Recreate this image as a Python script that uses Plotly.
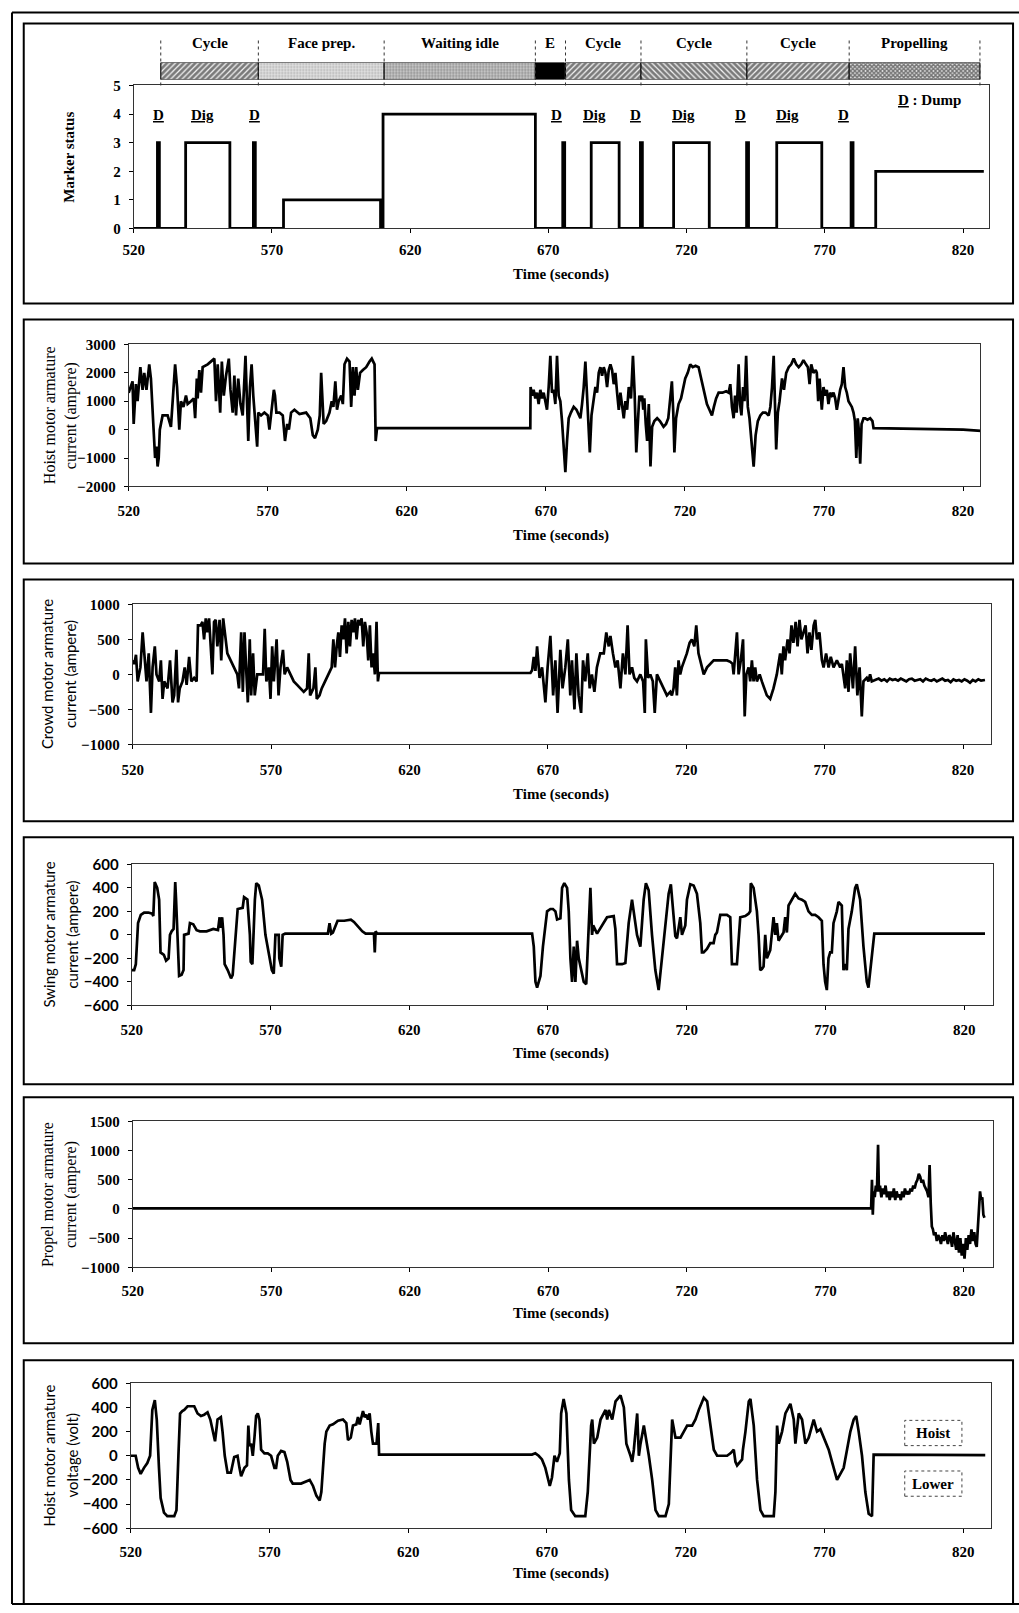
import plotly.graph_objects as go

W, H = 1019, 1613

# ---------------------------------------------------------------- data
x_ticks = [520, 570, 620, 670, 720, 770, 820]

# marker status (step changes: time, status)
marker_t = [520, 528.6, 529.3, 538.8, 554.8, 563.3, 564.0, 574.2, 609.3, 610.2, 665.3,
            675.2, 675.9, 685.5, 695.6, 703.3, 704.0, 715.3, 728.2, 741.7, 742.4,
            752.6, 768.9, 779.5, 780.2, 788.4, 827.5]
marker_v = [0, 3, 0, 3, 0, 3, 0, 1, 0, 4, 0, 3, 0, 3, 0, 3, 0, 3, 0, 3, 0, 3, 0, 3, 0, 2, 2]

phase_names = ["Cycle", "Face prep.", "Waiting idle", "E", "Cycle", "Cycle", "Cycle", "Propelling"]
phase_start = [529.8, 565.1, 610.6, 665.3, 676.2, 703.5, 741.8, 778.8]
phase_end = [565.1, 610.6, 665.3, 675.8, 703.5, 741.8, 778.8, 826.1]

dump_label_t = [529.0, 563.7, 672.8, 701.6, 739.6, 776.9]
dig_label_t = [545.0, 686.6, 718.9, 756.6]

hoist_current = [
    (520.0, 1300), (521.4, 1700), (521.8, 200), (522.6, 1600), (523.2, 1000), (524.2, 2200),
    (525.0, 1400), (525.6, 2000), (526.4, 1400), (527.4, 2300), (528.0, 1800), (528.4, 1000),
    (529.0, 0), (529.5, -1000), (530.0, -600), (530.4, -1300), (530.8, -1000), (531.2, 0),
    (532.2, 500), (534.0, 500), (535.2, 100), (535.8, 1000), (536.7, 2300), (537.4, 1500),
    (538.2, 0), (538.8, 1000), (539.7, 800), (540.6, 1200), (541.2, 900), (542.4, 1000),
    (543.4, 1100), (543.9, 400), (544.5, 1800), (544.8, 1100), (545.4, 2100), (546.0, 1300),
    (546.6, 2200), (548.4, 2300), (549.6, 2400), (550.8, 2500), (551.4, 1000), (552.0, 2300),
    (552.9, 600), (553.5, 2400), (554.2, 1200), (555.0, 1900), (556.0, 2500), (556.6, 1400),
    (557.4, 600), (558.0, 1900), (558.6, 500), (559.4, 1800), (560.2, 900), (561.0, 500),
    (562.0, 2600), (562.6, 1000), (563.0, -400), (563.6, 1500), (564.2, 2300), (564.8, 1200),
    (565.4, 500), (566.2, -600), (566.6, 600), (567.6, 500), (568.8, 600), (570.0, 500),
    (570.6, 0), (571.2, 600), (572.2, 1400), (572.6, 1200), (573.1, 600), (574.2, 600),
    (575.4, 500), (576.2, -400), (577.0, 200), (577.6, 0), (578.4, 600), (579.6, 700),
    (581.4, 550), (583.8, 600), (585.3, 400), (586.2, -200), (587.0, -300), (588.0, 0),
    (588.7, 500), (589.2, 2000), (589.7, 600), (590.1, 200), (591.0, 300), (592.2, 600),
    (593.0, 1000), (593.6, 800), (594.3, 1700), (594.9, 700), (595.5, 1000), (596.4, 1200),
    (597.0, 900), (597.6, 2300), (598.5, 2500), (599.4, 2400), (600.0, 800), (600.6, 2200),
    (601.2, 1200), (601.8, 2200), (602.4, 1400), (603.2, 2000), (604.2, 2100), (605.4, 2200),
    (606.6, 2400), (607.4, 2500), (608.4, 2300), (608.8, -400), (609.3, 50), (664.4, 50),
    (664.5, 1500), (665.0, 1200), (665.6, 1400), (666.2, 1100), (666.8, 1300), (667.4, 900),
    (668.0, 1400), (668.6, 1100), (669.2, 1300), (669.8, 1000), (670.4, 700), (671.0, 1500),
    (671.6, 2600), (672.2, 1300), (672.8, 1400), (673.4, 900), (674.0, 2600), (674.6, 1200),
    (675.2, 1000), (675.8, 300), (676.4, -800), (677.0, -1500), (677.6, -400), (678.2, 400),
    (679.0, 600), (680.0, 800), (681.0, 700), (681.8, 500), (682.4, 400), (683.0, 900),
    (683.6, 1500), (684.2, 2400), (684.8, 1200), (685.3, 300), (685.8, -800), (686.4, 500),
    (687.0, 1000), (687.8, 1500), (688.4, 1300), (689.0, 2000), (689.6, 2200), (690.2, 1900),
    (690.8, 2200), (691.4, 2000), (692.0, 1500), (692.6, 2100), (693.2, 2300), (693.8, 2100),
    (694.4, 1600), (695.0, 2000), (695.6, 1300), (696.2, 700), (696.8, 1300), (697.4, 900),
    (698.0, 400), (698.6, 1000), (699.2, 700), (699.8, 1500), (700.6, 1100), (701.3, 2600),
    (701.9, 1300), (702.5, -800), (703.1, 600), (703.6, 1200), (704.0, 1000), (704.6, 1200),
    (705.0, 700), (705.4, 1100), (705.9, 200), (706.4, -400), (707.0, 900), (707.6, -1300),
    (708.2, 100), (709.0, 300), (710.0, 400), (711.0, 300), (712.3, 100), (713.2, 200),
    (714.0, 400), (714.7, 1000), (715.3, 1700), (715.8, 600), (716.2, -800), (716.8, 400),
    (717.7, 900), (718.6, 1100), (719.4, 1500), (720.1, 1800), (721.0, 2000), (721.9, 2300),
    (722.8, 2200), (723.8, 2250), (724.9, 2200), (725.8, 1800), (726.8, 1300), (727.9, 900),
    (728.8, 700), (729.7, 500), (730.4, 800), (731.2, 1100), (732.1, 1300), (733.5, 1300),
    (734.8, 1350), (735.7, 1300), (736.3, 1600), (736.9, 800), (737.5, 400), (738.0, 1200),
    (738.6, 600), (739.3, 2300), (739.8, 900), (740.3, 500), (740.9, 1500), (741.4, 1000),
    (742.0, 2600), (742.6, 800), (743.2, 400), (743.9, -400), (744.7, -1300), (745.4, -200),
    (746.2, 300), (747.1, 500), (748.0, 600), (749.0, 600), (750.1, 500), (750.7, 800),
    (751.3, 1500), (751.9, 2600), (752.4, 700), (752.8, -700), (753.4, 600), (754.0, 1000),
    (754.9, 1800), (755.6, 1400), (756.4, 2000), (757.3, 2200), (758.2, 2300), (759.1, 2500),
    (760.0, 2300), (760.9, 2200), (761.8, 2300), (762.6, 2450), (763.5, 2300), (764.2, 2200),
    (764.8, 1600), (765.4, 2300), (766.2, 2000), (767.0, 2100), (767.4, 2000), (767.9, 1000),
    (768.4, 1800), (769.2, 700), (769.8, 1500), (770.4, 1200), (771.0, 1400), (771.6, 900),
    (772.2, 1300), (772.8, 1200), (773.4, 1300), (774.0, 1100), (774.6, 700), (775.2, 1100),
    (775.8, 1400), (776.4, 1600), (777.0, 2200), (777.6, 1500), (778.2, 1300), (778.8, 1000),
    (779.4, 900), (780.0, 800), (780.6, 600), (781.1, 300), (781.6, -1000), (782.1, 400),
    (782.5, 0), (783.0, -1200), (783.5, 200), (784.2, 400), (784.8, 400), (785.6, 350),
    (786.6, 400), (787.4, 300), (787.8, 50), (800.0, 40), (810.0, 20), (820.0, 0), (827.3, -50),
]

crowd_current = [
    (520.0, 200), (520.6, 150), (521.2, 280), (521.8, -100), (522.8, 100), (523.6, 600),
    (524.2, 300), (525.0, -100), (525.8, 300), (526.6, -550), (527.2, 100), (528.0, 400),
    (528.6, 0), (529.6, -100), (530.2, 200), (530.8, -350), (531.4, -100), (532.6, -200),
    (533.5, 200), (534.4, -400), (535.0, -300), (535.8, 350), (536.4, -400), (537.0, -200),
    (538.0, -100), (538.8, 100), (539.5, -150), (540.4, 250), (541.2, -100), (542.2, -50),
    (543.1, -100), (543.6, 700), (544.6, 700), (545.2, 750), (545.8, 500), (546.4, 800),
    (547.0, 600), (547.6, 800), (548.2, 400), (548.8, 0), (549.4, 750), (550.0, 780),
    (550.6, 400), (551.4, 780), (552.0, 200), (552.7, 800), (553.3, 600), (554.2, 300),
    (555.4, 200), (556.6, 100), (557.8, 0), (558.4, -200), (559.2, 600), (559.8, -250),
    (560.4, 600), (561.1, 0), (561.6, -400), (562.3, 500), (562.8, -300), (563.5, 300),
    (564.1, -300), (565.0, 0), (566.2, 0), (567.1, 0), (567.7, 650), (568.3, -100),
    (569.2, 100), (569.8, -350), (570.4, 400), (571.0, -100), (572.0, 500), (572.7, -300),
    (573.4, 100), (574.3, 350), (574.9, 0), (575.8, 100), (577.0, 0), (578.2, -100),
    (579.4, -150), (580.6, -200), (581.8, -250), (583.0, -200), (583.6, 300), (584.1, -300),
    (585.3, -200), (586.0, 100), (586.5, -350), (587.5, -300), (588.3, -200), (589.5, -100),
    (590.7, 0), (591.9, 100), (592.5, 500), (593.1, 100), (593.7, 400), (594.3, 600),
    (594.9, 250), (595.5, 700), (596.1, 500), (596.7, 800), (597.3, 300), (597.9, 750),
    (598.5, 400), (599.1, 780), (599.7, 600), (600.3, 800), (600.9, 500), (601.5, 780),
    (602.1, 700), (602.7, 800), (603.3, 400), (603.9, 750), (604.5, 600), (605.1, 200),
    (605.7, 700), (606.3, 100), (606.9, 300), (607.5, 0), (608.1, 750), (608.6, -100),
    (609.0, 20), (663.7, 20), (664.3, 60), (664.9, 250), (665.5, 50), (666.1, 400),
    (667.0, -50), (667.9, 100), (669.1, -400), (669.9, 100), (670.9, 550), (671.9, -300),
    (672.7, 200), (673.5, -550), (674.5, 350), (675.3, -200), (676.3, 100), (677.2, 500),
    (678.1, -300), (678.7, 200), (679.6, -500), (680.3, 300), (681.1, -300), (682.0, -550),
    (682.7, 200), (683.5, -100), (684.4, 300), (685.1, -200), (685.9, 0), (686.8, -250),
    (687.7, 100), (688.9, 300), (690.2, 300), (691.1, 600), (692.0, 400), (692.6, 550),
    (693.5, 300), (694.4, 100), (695.2, 200), (696.2, -200), (697.1, 300), (698.0, 0),
    (698.8, 700), (699.5, 0), (700.4, 100), (701.2, -50), (702.2, -100), (703.4, 0),
    (704.4, -100), (705.0, -550), (705.4, 500), (706.2, -50), (707.0, 0), (707.9, -100),
    (708.6, -550), (709.4, 0), (710.6, -100), (711.8, -200), (713.0, -300), (714.2, -250),
    (714.8, -300), (715.4, -200), (716.0, 100), (716.6, -300), (717.2, 200), (717.8, 0),
    (718.4, 100), (719.3, 200), (720.2, 300), (721.2, 450), (722.0, 500), (722.9, 400),
    (723.6, 700), (724.4, 300), (725.1, 200), (726.3, 0), (727.5, 100), (728.7, 150),
    (729.9, 200), (732.3, 200), (734.7, 200), (735.9, 180), (736.7, 150), (737.1, 0),
    (737.7, 300), (738.3, 600), (738.9, 0), (739.7, 200), (740.5, 500), (741.1, -600),
    (741.7, 0), (742.5, 100), (743.1, -100), (743.7, 200), (744.3, -100), (744.9, 100),
    (745.5, -100), (746.5, 0), (747.3, -100), (748.2, -200), (749.1, -300), (750.3, -350),
    (751.5, -200), (752.7, 0), (753.9, 300), (754.5, 0), (755.1, 400), (755.7, 200),
    (756.6, 500), (757.3, 300), (758.0, 700), (758.7, 450), (759.5, 750), (760.2, 400),
    (760.9, 780), (761.6, 500), (762.4, 600), (763.1, 700), (763.8, 300), (764.5, 600),
    (765.2, 350), (766.0, 700), (766.6, 780), (767.2, 500), (768.1, 600), (769.0, 200),
    (769.6, 100), (770.5, 300), (771.4, 100), (772.2, 250), (773.2, 100), (774.4, 200),
    (775.6, 100), (776.2, 150), (777.4, -200), (778.0, 200), (778.6, -250), (779.2, 300),
    (780.2, -200), (781.0, 400), (781.8, -300), (782.6, 100), (783.4, -600), (784.0, -100),
    (785.2, -50), (785.8, -100), (786.4, 0), (787.0, -100), (788.2, -80), (789.5, -60),
    (790.5, -90), (791.5, -70), (792.5, -100), (793.5, -60), (794.5, -80), (795.5, -70),
    (796.5, -90), (797.5, -60), (798.5, -80), (799.5, -100), (800.5, -70), (801.5, -60),
    (802.5, -90), (803.5, -80), (804.5, -70), (805.5, -100), (806.5, -60), (807.5, -80),
    (808.5, -90), (809.5, -70), (810.5, -100), (811.5, -80), (812.5, -60), (813.5, -90),
    (814.5, -80), (815.5, -110), (816.5, -70), (817.5, -90), (818.5, -80), (819.5, -100),
    (820.5, -70), (821.5, -90), (822.5, -120), (823.5, -80), (824.5, -100), (825.5, -70),
    (826.5, -90), (827.9, -80),
]

swing_current = [
    (520.0, -300), (520.9, -300), (521.5, -250), (522.3, 100), (523.3, 170), (524.5, 190),
    (526.0, 190), (527.4, 180), (527.8, 160), (528.3, 450), (529.2, 400), (529.9, 300),
    (530.4, -150), (531.6, -170), (532.4, -220), (533.3, -200), (533.8, 0), (534.4, 30),
    (535.1, 50), (535.7, 450), (536.0, 300), (536.5, 0), (537.1, -350), (538.0, -340),
    (538.7, -300), (538.9, 0), (540.5, 10), (541.0, 100), (542.2, 90), (543.4, 40),
    (544.6, 30), (547.0, 30), (549.4, 50), (551.1, 40), (551.7, 150), (552.0, 60),
    (552.6, 150), (553.1, 0), (553.5, -250), (554.6, -300), (555.8, -370), (556.4, -340),
    (557.6, 0), (558.2, 220), (560.0, 230), (560.5, 320), (561.7, 300), (562.6, 0),
    (562.9, -230), (563.5, -250), (564.4, 300), (564.9, 440), (565.8, 420), (567.0, 300),
    (568.2, 0), (569.4, -150), (570.5, -300), (571.2, -330), (571.8, 0), (573.0, 0),
    (573.2, -200), (573.9, -270), (574.4, 0), (575.3, 10), (590.7, 10), (591.3, 100),
    (591.9, 10), (592.5, 20), (593.6, 90), (594.2, 120), (596.6, 120), (599.0, 130),
    (600.1, 110), (601.3, 80), (603.1, 30), (604.3, 10), (607.3, 10), (607.6, -150),
    (607.9, 30), (608.5, 10), (664.3, 10), (664.9, -100), (665.5, -400), (666.1, -450),
    (667.3, -350), (668.2, -100), (669.1, 100), (669.7, 200), (670.9, 220), (671.8, 220),
    (672.7, 200), (673.3, 130), (674.5, 140), (675.1, 400), (675.9, 440), (676.9, 400),
    (677.5, 200), (678.1, -200), (678.7, -400), (679.3, -100), (679.9, -400), (680.5, -50),
    (681.1, -200), (682.9, -400), (683.8, -420), (684.7, 100), (685.3, 400), (685.9, 0),
    (686.3, 80), (687.7, 10), (688.9, 60), (691.3, 150), (693.7, 160), (694.3, 50),
    (694.9, -250), (696.7, -250), (697.9, -240), (699.1, 100), (700.3, 300), (700.9, 200),
    (702.1, 0), (703.3, -100), (704.5, 300), (705.3, 440), (706.3, 380), (707.5, 0),
    (708.7, -300), (709.9, -470), (711.1, -200), (711.7, -100), (712.3, 70), (713.5, 350),
    (714.3, 430), (715.1, 200), (715.9, -10), (716.5, -30), (717.7, 150), (718.3, 0),
    (719.5, 80), (720.1, 300), (721.3, 430), (722.5, 420), (723.7, 350), (724.9, 100),
    (725.5, -150), (726.1, -150), (727.3, -120), (728.5, -70), (729.7, -70), (730.3, 0),
    (730.9, 20), (732.1, 170), (734.5, 170), (735.7, 150), (736.3, -250), (738.1, -250),
    (739.3, 150), (741.1, 160), (742.3, 180), (742.9, 200), (743.1, 440), (744.1, 400),
    (745.3, 200), (745.9, 0), (746.5, -300), (747.1, -290), (747.7, -270), (748.3, 0),
    (748.9, -200), (750.1, -130), (750.7, 50), (751.3, 150), (751.9, 0), (752.5, 100),
    (753.1, -50), (754.3, 0), (754.9, 20), (755.5, 150), (756.1, 20), (756.7, 250),
    (757.9, 300), (759.1, 350), (760.3, 310), (761.5, 300), (762.7, 280), (763.9, 200),
    (765.1, 170), (766.3, 170), (767.5, 150), (768.7, 120), (769.3, -250), (769.9, -400),
    (770.5, -470), (771.1, -200), (771.7, -150), (772.3, -150), (772.9, 100), (774.1, 200),
    (774.7, 280), (775.9, 250), (776.5, -300), (777.1, -250), (777.7, -300), (778.3, 50),
    (779.5, 200), (780.7, 400), (781.3, 430), (782.5, 300), (783.7, -100), (784.9, -400),
    (785.5, -450), (786.1, -300), (787.3, 0), (787.6, 10), (827.5, 10),
]

propel_current = [
    (520.0, 10), (786.5, 10), (786.8, 500), (787.1, -100), (787.4, 300), (787.8, 200),
    (788.2, 400), (788.6, 300), (789.0, 1100), (789.3, 300), (789.7, 400), (790.2, 200),
    (790.7, 350), (791.2, 250), (791.7, 400), (792.2, 200), (792.7, 300), (793.2, 150),
    (793.7, 300), (794.2, 200), (794.7, 350), (795.2, 150), (795.7, 300), (796.2, 200),
    (796.7, 250), (797.2, 150), (797.7, 300), (798.2, 200), (798.7, 350), (799.2, 250),
    (799.7, 300), (800.2, 250), (800.7, 350), (801.2, 300), (801.7, 400), (802.2, 350),
    (802.7, 450), (803.2, 500), (803.7, 600), (804.2, 550), (804.7, 450), (805.2, 500),
    (805.7, 400), (806.2, 350), (806.7, 300), (807.2, 200), (807.6, 750), (808.0, 100),
    (808.4, -300), (808.8, -350), (809.2, -450), (809.7, -400), (810.2, -550), (810.7, -450),
    (811.2, -500), (811.7, -600), (812.2, -450), (812.7, -550), (813.2, -400), (813.7, -500),
    (814.2, -600), (814.7, -450), (815.2, -500), (815.7, -650), (816.2, -400), (816.7, -550),
    (817.2, -700), (817.7, -450), (818.2, -750), (818.7, -500), (819.2, -800), (819.7, -600),
    (820.2, -850), (820.7, -500), (821.2, -700), (821.7, -450), (822.2, -600), (822.7, -350),
    (823.2, -550), (823.7, -400), (824.2, -600), (824.6, -650), (825.0, -300), (825.4, 0),
    (825.8, 300), (826.2, 150), (826.6, 200), (827.0, -100), (827.4, -150),
]

hoist_voltage = [
    (520.0, 0), (521.8, 0), (522.7, -100), (523.6, -150), (524.8, -100), (526.0, -60),
    (527.0, 0), (527.8, 380), (528.7, 460), (529.4, 300), (530.2, -100), (530.8, -350),
    (532.0, -470), (533.2, -500), (535.7, -500), (536.5, -450), (537.2, 0), (537.8, 350),
    (538.6, 370), (539.3, 380), (540.5, 410), (542.9, 410), (544.1, 350), (545.3, 330),
    (546.5, 340), (547.7, 360), (548.7, 300), (549.5, 200), (550.4, 120), (551.3, 300),
    (552.5, 320), (553.1, 200), (553.9, 0), (554.9, -140), (556.1, -140), (557.3, -10),
    (558.5, 0), (559.2, -100), (559.8, -170), (561.0, -100), (561.9, -80), (562.4, 250),
    (562.8, 80), (563.4, 100), (564.0, 0), (564.6, 150), (565.2, 330), (565.8, 350),
    (566.4, 300), (567.0, 50), (568.2, 20), (569.4, 20), (570.6, 0), (571.8, -100),
    (572.4, -100), (573.0, 0), (574.2, 40), (575.4, 30), (576.4, -50), (577.6, -200),
    (578.4, -230), (581.4, -230), (583.3, -210), (584.5, -200), (585.7, -250), (586.9, -330),
    (588.1, -370), (588.7, -300), (589.9, 100), (590.5, 200), (591.7, 250), (592.9, 260),
    (594.7, 290), (596.5, 300), (597.7, 270), (598.3, 130), (599.3, 150), (600.1, 250),
    (601.3, 260), (601.9, 320), (602.5, 260), (603.7, 370), (604.3, 320), (604.9, 340),
    (605.5, 300), (606.1, 350), (606.7, 200), (607.3, 100), (608.6, 100), (609.2, 270),
    (609.5, 10), (664.6, 10), (665.8, 20), (667.0, 0), (668.2, -30), (669.4, -100),
    (671.0, -250), (671.8, -180), (672.7, 0), (673.6, -50), (674.6, 20), (675.1, 350),
    (676.0, 470), (677.0, 350), (677.9, -200), (678.7, -450), (680.2, -500), (683.8, -500),
    (684.7, -300), (685.4, 100), (685.9, 250), (686.3, 300), (686.9, 100), (688.1, 150),
    (689.3, 300), (691.1, 380), (691.7, 300), (692.3, 380), (693.5, 300), (694.7, 450),
    (696.5, 500), (697.7, 400), (698.6, 100), (700.1, 0), (700.7, -50), (701.3, 50),
    (702.5, 350), (703.1, 0), (703.7, 100), (704.9, 250), (706.1, 100), (706.7, 0),
    (707.9, -200), (709.1, -450), (710.3, -500), (712.7, -500), (713.9, -400), (715.1, 300),
    (716.3, 150), (718.1, 150), (719.3, 200), (720.5, 250), (722.3, 250), (723.5, 300),
    (724.7, 380), (726.5, 480), (727.7, 450), (728.9, 250), (730.1, 50), (731.3, 0),
    (734.9, 0), (736.1, 20), (737.3, 50), (737.9, -50), (738.5, -80), (740.3, -30),
    (740.6, 50), (741.5, 200), (742.7, 450), (743.3, 470), (744.5, 250), (745.7, -200),
    (746.9, -450), (748.1, -500), (751.7, -500), (752.3, -300), (752.9, 250), (753.5, 100),
    (754.7, 200), (755.9, 350), (757.7, 430), (758.9, 300), (759.5, 100), (760.7, 350),
    (761.9, 300), (763.1, 100), (764.3, 150), (766.1, 300), (767.3, 200), (768.5, 220),
    (769.7, 150), (771.5, 50), (772.7, -50), (774.5, -200), (775.7, -150), (776.9, -100),
    (778.1, 50), (779.3, 200), (780.5, 300), (781.4, 330), (782.3, 200), (783.5, 0),
    (784.7, -300), (785.9, -480), (787.1, -500), (787.5, 0), (787.7, 10), (827.9, 5),
]

# ---------------------------------------------------------------- helpers
SERIF = "Liberation Serif"
SANS = "Lato"

# the page is photographed slightly scaled and offset; map target pixels to figure pixels
SX, OX, SY, OY = 0.9899, 10.25, 0.989, 9.5


def fx(x):
    return min(max((x - OX) / SX, 1.0), W - 1.0)


def fy(y):
    return min(max((y - OY) / SY, 1.0), H - 1.0)


def xd(l, r):
    return [fx(l) / W, fx(r) / W]


def yd(top, bot):
    return [1 - fy(bot) / H, 1 - fy(top) / H]


def px(x):
    return fx(x) / W


def py(y):
    return 1 - fy(y) / H


panels = [
    dict(pts=None, xpx=(133, 989), ypx=(85, 228), xr=[520, 829.4], yr=[0, 5],
         yt=[0, 1, 2, 3, 4, 5], box=(23, 303), title=["Marker status"], tx=[68],
         tfont=SERIF, tsize=15, tbold=True, tkfont=SERIF, xt_y=274, std=4),
    dict(pts=hoist_current, xpx=(128, 980), ypx=(344, 486), xr=[520, 826.1], yr=[-2000, 3000],
         yt=[-2000, -1000, 0, 1000, 2000, 3000], box=(319, 563),
         title=["Hoist motor armature", "current (ampere)"], tx=[49, 71],
         tfont=SERIF, tsize=16, tbold=False, tkfont=SERIF, xt_y=535, std=7),
    dict(pts=crowd_current, xpx=(132, 991), ypx=(604, 744), xr=[520, 830.1], yr=[-1000, 1000],
         yt=[-1000, -500, 0, 500, 1000], box=(579, 821),
         title=["Crowd motor armature", "current (ampere)"], tx=[47, 70],
         tfont=SANS, tsize=15, tbold=False, tkfont=SERIF, xt_y=794, std=8),
    dict(pts=swing_current, xpx=(131, 993), ypx=(864, 1005), xr=[520, 830.4], yr=[-600, 600],
         yt=[-600, -400, -200, 0, 200, 400, 600], box=(837, 1084),
         title=["Swing motor armature", "current (ampere)"], tx=[48, 71],
         tfont=SANS, tsize=15, tbold=False, tkfont=SANS, xt_y=1053, std=7),
    dict(pts=propel_current, xpx=(132, 993), ypx=(1121, 1267), xr=[520, 830.5], yr=[-1000, 1500],
         yt=[-1000, -500, 0, 500, 1000, 1500], box=(1097, 1343),
         title=["Propel motor armature", "current (ampere)"], tx=[48, 71],
         tfont=SERIF, tsize=16, tbold=False, tkfont=SERIF, xt_y=1313, std=6),
    dict(pts=hoist_voltage, xpx=(130, 991), ypx=(1383, 1528), xr=[520, 830.0], yr=[-600, 600],
         yt=[-600, -400, -200, 0, 200, 400, 600], box=(1360, 1606),
         title=["Hoist motor armature", "voltage (volt)"], tx=[48, 71],
         tfont=SANS, tsize=15, tbold=False, tkfont=SANS, xt_y=1573, std=6),
]

fig = go.Figure()
shapes = []
annotations = []
layout = dict(
    width=W, height=H, margin=dict(l=0, r=0, t=0, b=0),
    paper_bgcolor="white", plot_bgcolor="white", showlegend=False, barmode="overlay",
)


def note(x, y, text, font, xref="paper", yref="paper", **kw):
    annotations.append(dict(xref=xref, yref=yref, x=x, y=y, text=text, showarrow=False,
                            xanchor="center", yanchor="middle", font=font, **kw))


for i, p in enumerate(panels, start=1):
    sfx = "" if i == 1 else str(i)
    xa, ya = "x" + sfx, "y" + sfx
    if i == 1:
        fig.add_trace(go.Scatter(x=marker_t, y=marker_v, mode="lines", xaxis=xa, yaxis=ya,
                                 line=dict(color="black", width=2.8, shape="hv")))
    else:
        fig.add_trace(go.Scatter(x=[q[0] for q in p["pts"]], y=[q[1] for q in p["pts"]],
                                 mode="lines", xaxis=xa, yaxis=ya,
                                 line=dict(color="black", width=2.7)))
    tick_font = dict(family=p["tkfont"], size=15, color="black", weight="bold")
    layout["xaxis" + sfx] = dict(
        domain=xd(*p["xpx"]), range=p["xr"], anchor=ya, tickvals=x_ticks,
        ticks="outside", ticklen=4, tickcolor="black", showline=True, linecolor="#333",
        linewidth=1, mirror=True, showgrid=False, zeroline=False,
        tickfont=dict(family=SERIF, size=15, color="black", weight="bold"),
        ticklabelstandoff=p["std"],
    )
    layout["yaxis" + sfx] = dict(
        domain=yd(*p["ypx"]), range=p["yr"], anchor=xa, tickvals=p["yt"],
        ticks="outside", ticklen=4, tickcolor="black", showline=True, linecolor="#333",
        linewidth=1, mirror=True, showgrid=False, zeroline=False, tickfont=tick_font,
        ticklabelstandoff=5,
    )
    # panel frame
    shapes.append(dict(type="rect", xref="paper", yref="paper", x0=px(23), x1=px(1013),
                       y0=py(p["box"][1]), y1=py(p["box"][0]),
                       line=dict(color="black", width=2)))
    # axis titles
    note(px(561), py(p["xt_y"]), "Time (seconds)",
         dict(family=SERIF, size=15, color="black", weight="bold"))
    ymid = py((p["ypx"][0] + p["ypx"][1]) / 2)
    for line_text, lx in zip(p["title"], p["tx"]):
        note(px(lx), ymid, line_text,
             dict(family=p["tfont"], size=p["tsize"], color="black",
                  weight="bold" if p["tbold"] else "normal"), textangle=-90)

# outer frame
shapes.append(dict(type="line", xref="paper", yref="paper", x0=px(7), x1=px(7),
                   y0=py(1611), y1=py(12), line=dict(color="black", width=2)))
shapes.append(dict(type="line", xref="paper", yref="paper", x0=px(7), x1=1,
                   y0=py(12), y1=py(12), line=dict(color="black", width=2)))
shapes.append(dict(type="line", xref="paper", yref="paper", x0=px(7), x1=1,
                   y0=py(1611), y1=py(1611), line=dict(color="black", width=2)))

# phase band (bars on their own axis, sharing panel 1 time scale)
layout["xaxis7"] = dict(domain=xd(133, 989), range=[520, 829.4], visible=False, anchor="y7")
layout["yaxis7"] = dict(domain=yd(62, 79), range=[-0.5, 0.5], visible=False, anchor="x7")

phase_style = {
    "Cycle": dict(color="white", pattern=dict(shape="/", fgcolor="#000", bgcolor="#f4f4f4",
                                               size=4, solidity=0.7)),
    "Cycle\\": dict(color="white", pattern=dict(shape="\\", fgcolor="#000", bgcolor="#f4f4f4",
                                                 size=4, solidity=0.7)),
    "Face prep.": dict(color="white", pattern=dict(shape=".", fgcolor="#777", bgcolor="#e2e2e2",
                                                    size=3, solidity=0.35)),
    "Waiting idle": dict(color="white", pattern=dict(shape=".", fgcolor="#444",
                                                      bgcolor="#d0d0d0", size=3, solidity=0.45)),
    "E": dict(color="black"),
    "Propelling": dict(color="white", pattern=dict(shape="x", fgcolor="#000", bgcolor="#e8e8e8",
                                                    size=3, solidity=0.7)),
}
band_font = dict(family=SERIF, size=15, color="black", weight="bold")
for k, (name, s, e) in enumerate(zip(phase_names, phase_start, phase_end)):
    key = "Cycle\\" if (name == "Cycle" and k == 5) else name
    st = phase_style[key]
    fig.add_trace(go.Bar(y=[0], x=[e - s], base=[s], orientation="h", width=1,
                         xaxis="x7", yaxis="y7",
                         marker=dict(line=dict(color="black", width=1), **st)))
    note((s + e) / 2, py(43), name, band_font, xref="x")
for b in phase_start + [phase_end[-1]]:
    shapes.append(dict(type="line", xref="x", yref="paper", x0=b, x1=b, y0=py(85), y1=py(40),
                       line=dict(color="#333", width=1, dash="dot")))

# D / Dig labels
lab_font = dict(family=SERIF, size=15, color="black", weight="bold")
for t in dump_label_t:
    note(t, 3.97, "<u>D</u>", lab_font, xref="x", yref="y")
for t in dig_label_t:
    note(t, 3.97, "<u>Dig</u>", lab_font, xref="x", yref="y")
note(807.7, 4.48, "<u>D</u> : Dump", lab_font, xref="x", yref="y")

# Hoist / Lower boxes on voltage panel
for lab, y0, y1 in [("Hoist", 84, 293), ("Lower", -335, -126)]:
    shapes.append(dict(type="rect", xref="x6", yref="y6", x0=798.9, x1=819.5, y0=y0, y1=y1,
                       line=dict(color="#444", width=1, dash="dot")))
    note(809.2, (y0 + y1) / 2, lab, lab_font, xref="x6", yref="y6")

layout["shapes"] = shapes
layout["annotations"] = annotations
fig.update_layout(**layout)
fig.write_html("out.html")
